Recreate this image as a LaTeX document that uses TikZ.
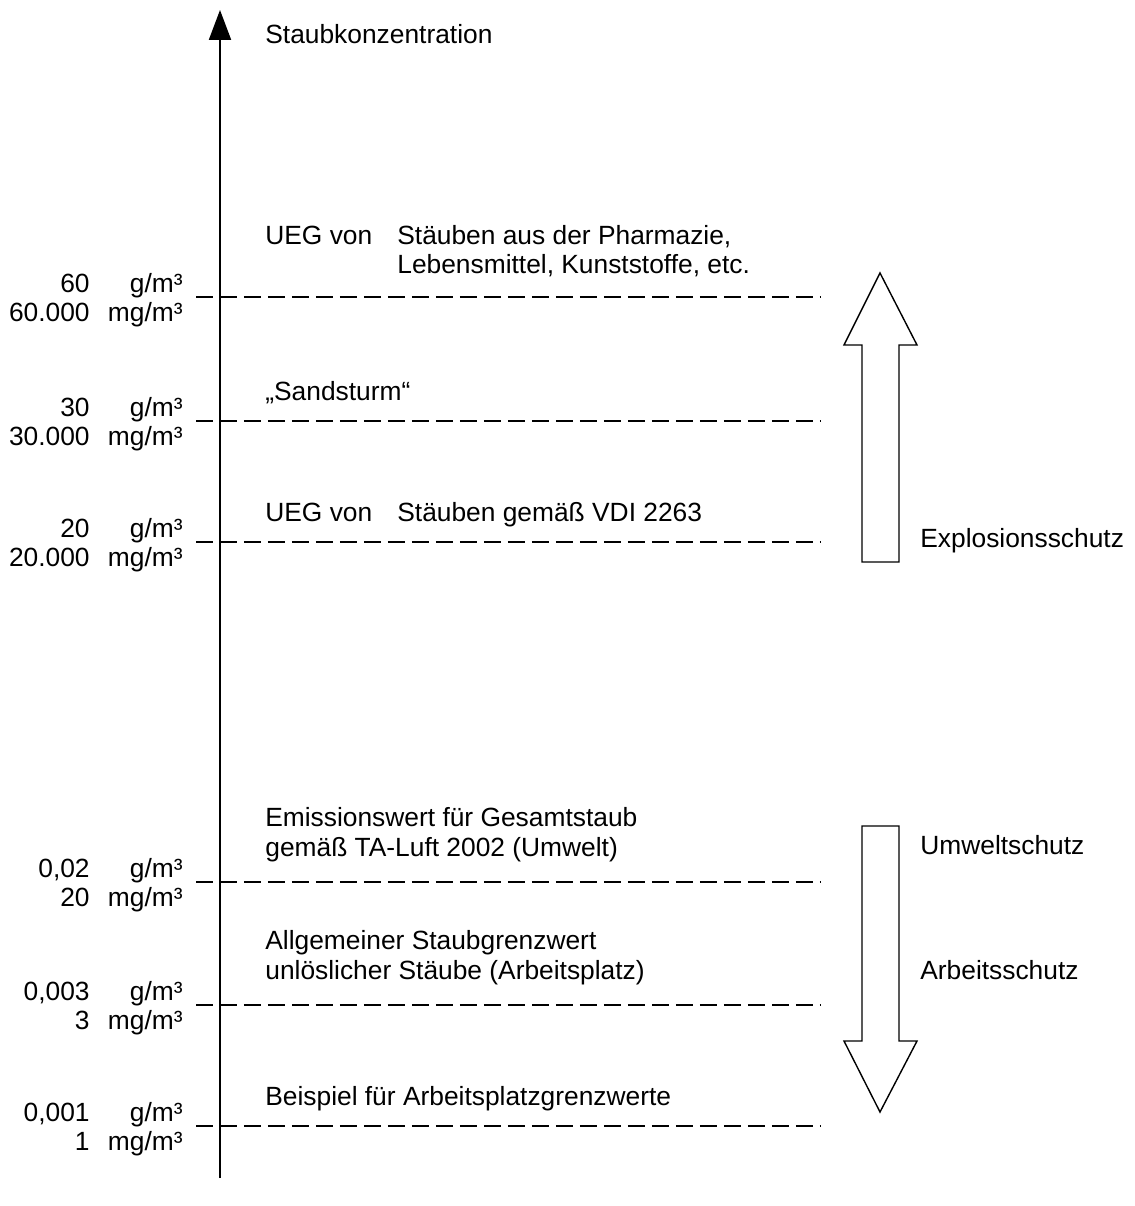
\documentclass[tikz,border=0pt]{standalone}
\usepackage{fontspec}
\setmainfont{Liberation Sans}
\usepackage{tikz}
\usetikzlibrary{arrows.meta}

\begin{document}
\begin{tikzpicture}[x=0.02cm,y=-0.02cm,
    every node/.style={font=\fontsize{15}{17}\selectfont,inner sep=0pt},
    level/.style={dash pattern=on 0.34cm off 0.14cm,line width=0.9pt},
    val/.style={anchor=base east},
    txt/.style={anchor=base west},
    bigarrow/.style={draw,line width=0.8pt,line join=miter}]
  \useasboundingbox (0,0) rectangle (1134,1206);
  % concentration axis
  \coordinate (bot) at (220,1178);
  \coordinate (top) at (220,10);
  \draw[line width=1.1pt,-{Triangle[width=12.5pt,length=17pt]}] (bot) -- (top);
  \node[txt] (axlabel) at (265,44) {Staubkonzentration};

  % levels (dashed) with values g/m3 and mg/m3
  \coordinate (l1a) at (196,297);  \coordinate (l1b) at (820,297);
  \coordinate (l2a) at (196,421);  \coordinate (l2b) at (820,421);
  \coordinate (l3a) at (196,542);  \coordinate (l3b) at (820,542);
  \coordinate (l4a) at (196,882);  \coordinate (l4b) at (820,882);
  \coordinate (l5a) at (196,1005); \coordinate (l5b) at (820,1005);
  \coordinate (l6a) at (196,1126); \coordinate (l6b) at (820,1126);
  \draw[level] (l1a) -- (l1b);
  \draw[level] (l2a) -- (l2b);
  \draw[level] (l3a) -- (l3b);
  \draw[level] (l4a) -- (l4b);
  \draw[level] (l5a) -- (l5b);
  \draw[level] (l6a) -- (l6b);

  \node[val] (g1) at (90,292) {60};       \node[val] (gu1) at (183,292) {g/m³};
  \node[val] (mg1) at (90,321) {60.000};  \node[val] (mgu1) at (183,321) {mg/m³};
  \node[val] (g2) at (90,416) {30};       \node[val] (gu2) at (183,416) {g/m³};
  \node[val] (mg2) at (90,445) {30.000};  \node[val] (mgu2) at (183,445) {mg/m³};
  \node[val] (g3) at (90,537) {20};       \node[val] (gu3) at (183,537) {g/m³};
  \node[val] (mg3) at (90,566) {20.000};  \node[val] (mgu3) at (183,566) {mg/m³};
  \node[val] (g4) at (90,877) {0,02};     \node[val] (gu4) at (183,877) {g/m³};
  \node[val] (mg4) at (90,906) {20};      \node[val] (mgu4) at (183,906) {mg/m³};
  \node[val] (g5) at (90,1000) {0,003};   \node[val] (gu5) at (183,1000) {g/m³};
  \node[val] (mg5) at (90,1029) {3};      \node[val] (mgu5) at (183,1029) {mg/m³};
  \node[val] (g6) at (90,1121) {0,001};   \node[val] (gu6) at (183,1121) {g/m³};
  \node[val] (mg6) at (90,1150) {1};      \node[val] (mgu6) at (183,1150) {mg/m³};

  % descriptions
  \node[txt] (ueg1) at (265,244) {UEG von};
  \node[txt] (pharma) at (397,244) {Stäuben aus der Pharmazie,};
  \node[txt] (lebens) at (397,273) {Lebensmittel, Kunststoffe, etc.};
  \node[txt] (sand) at (265,400) {„Sandsturm“};
  \node[txt] (ueg2) at (265,521) {UEG von};
  \node[txt] (vdi) at (397,521) {Stäuben gemäß VDI 2263};
  \node[txt] (emis) at (265,826) {Emissionswert für Gesamtstaub};
  \node[txt] (taluft) at (265,856) {gemäß TA-Luft 2002 (Umwelt)};
  \node[txt] (allg) at (265,949) {Allgemeiner Staubgrenzwert};
  \node[txt] (unloes) at (265,979) {unlöslicher Stäube (Arbeitsplatz)};
  \node[txt] (beisp) at (265,1105) {Beispiel für Arbeitsplatzgrenzwerte};

  % block arrows
  \draw[bigarrow] (862,562) -- (862,345) -- (844,345) -- (880,273)
        -- (917,345) -- (899,345) -- (899,562) -- cycle;
  \draw[bigarrow] (862,826) -- (862,1041) -- (844,1041) -- (880,1112)
        -- (917,1041) -- (899,1041) -- (899,826) -- cycle;
  \node[txt] (explo) at (920,547) {Explosionsschutz};
  \node[txt] (umwelt) at (920,854) {Umweltschutz};
  \node[txt] (arbeit) at (920,979) {Arbeitsschutz};
\end{tikzpicture}
\end{document}
